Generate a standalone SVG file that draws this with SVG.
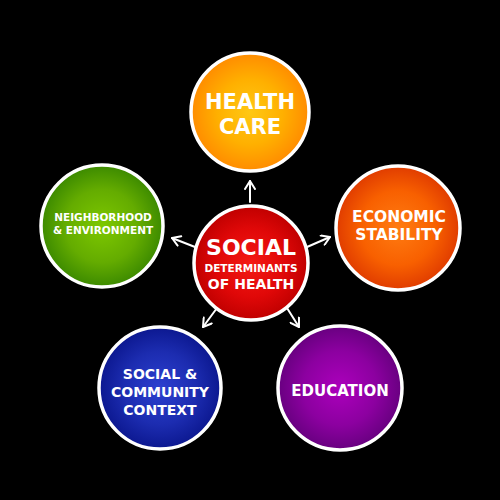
<svg xmlns="http://www.w3.org/2000/svg" width="500" height="500" viewBox="0 0 500 500">
<defs>
<radialGradient id="gOrange" cx="50%" cy="50%" r="50%"><stop offset="0" stop-color="#FFC814"/><stop offset="0.55" stop-color="#FFB000"/><stop offset="1" stop-color="#FF8C00"/></radialGradient>
<radialGradient id="gRed" cx="50%" cy="50%" r="50%"><stop offset="0" stop-color="#F41A14"/><stop offset="0.6" stop-color="#E00808"/><stop offset="1" stop-color="#C00000"/></radialGradient>
<radialGradient id="gGreen" cx="50%" cy="50%" r="50%"><stop offset="0" stop-color="#7EC800"/><stop offset="0.6" stop-color="#64AC00"/><stop offset="1" stop-color="#3C8A00"/></radialGradient>
<radialGradient id="gEco" cx="50%" cy="50%" r="50%"><stop offset="0" stop-color="#FF7C12"/><stop offset="0.6" stop-color="#F86000"/><stop offset="1" stop-color="#E03C00"/></radialGradient>
<radialGradient id="gBlue" cx="50%" cy="50%" r="50%"><stop offset="0" stop-color="#2C40D0"/><stop offset="0.6" stop-color="#1C2CB0"/><stop offset="1" stop-color="#0C1890"/></radialGradient>
<radialGradient id="gPurple" cx="50%" cy="50%" r="50%"><stop offset="0" stop-color="#AC00BC"/><stop offset="0.6" stop-color="#8C00A0"/><stop offset="1" stop-color="#680080"/></radialGradient>
<marker id="ah" viewBox="0 0 12 12" refX="10" refY="6" markerWidth="12" markerHeight="12" markerUnits="userSpaceOnUse" orient="auto"><path d="M2,1 L10,6 L2,11" fill="none" stroke="#fff" stroke-width="2" stroke-linecap="round" stroke-linejoin="round"/></marker>
</defs>
<style>
.ring{stroke:#fff;stroke-width:3.5}
.t{fill:#fff;font-family:"DejaVu Sans","Liberation Sans",sans-serif;font-weight:bold;text-anchor:middle}
.c{stroke:#fff;stroke-width:2;fill:none;stroke-linecap:round;marker-end:url(#ah)}
</style>
<rect width="500" height="500" fill="#000"/>
<g id="connectors">
<line class="c" x1="250" y1="202" x2="250" y2="181"/>
<line class="c" x1="195" y1="247" x2="172" y2="238"/>
<line class="c" x1="307" y1="247" x2="330" y2="237"/>
<line class="c" x1="217" y1="308" x2="203" y2="327"/>
<line class="c" x1="287" y1="308" x2="299" y2="327"/>
</g>
<g id="health-care">
<circle class="ring" cx="250" cy="112" r="59" fill="url(#gOrange)"/>
<text class="t" x="250" y="109" font-size="21">HEALTH</text>
<text class="t" x="250" y="134" font-size="21">CARE</text>
</g>
<g id="social-determinants">
<circle class="ring" cx="251" cy="263" r="57" fill="url(#gRed)"/>
<text class="t" x="251" y="255" font-size="22">SOCIAL</text>
<text class="t" x="251" y="272" font-size="10.5">DETERMINANTS</text>
<text class="t" x="251" y="289" font-size="14">OF HEALTH</text>
</g>
<g id="neighborhood">
<circle class="ring" cx="102" cy="226" r="61" fill="url(#gGreen)"/>
<text class="t" x="103" y="221" font-size="10.5">NEIGHBORHOOD</text>
<text class="t" x="103" y="234" font-size="10.5">&amp; ENVIRONMENT</text>
</g>
<g id="economic-stability">
<circle class="ring" cx="398" cy="228" r="62" fill="url(#gEco)"/>
<text class="t" x="399" y="222" font-size="15.5">ECONOMIC</text>
<text class="t" x="399" y="240" font-size="15.5">STABILITY</text>
</g>
<g id="social-community">
<circle class="ring" cx="160" cy="388" r="61" fill="url(#gBlue)"/>
<text class="t" x="160" y="379" font-size="14">SOCIAL &amp;</text>
<text class="t" x="160" y="397" font-size="14">COMMUNITY</text>
<text class="t" x="160" y="415" font-size="14">CONTEXT</text>
</g>
<g id="education">
<circle class="ring" cx="340" cy="388" r="62" fill="url(#gPurple)"/>
<text class="t" x="340" y="396" font-size="15">EDUCATION</text>
</g>
</svg>
